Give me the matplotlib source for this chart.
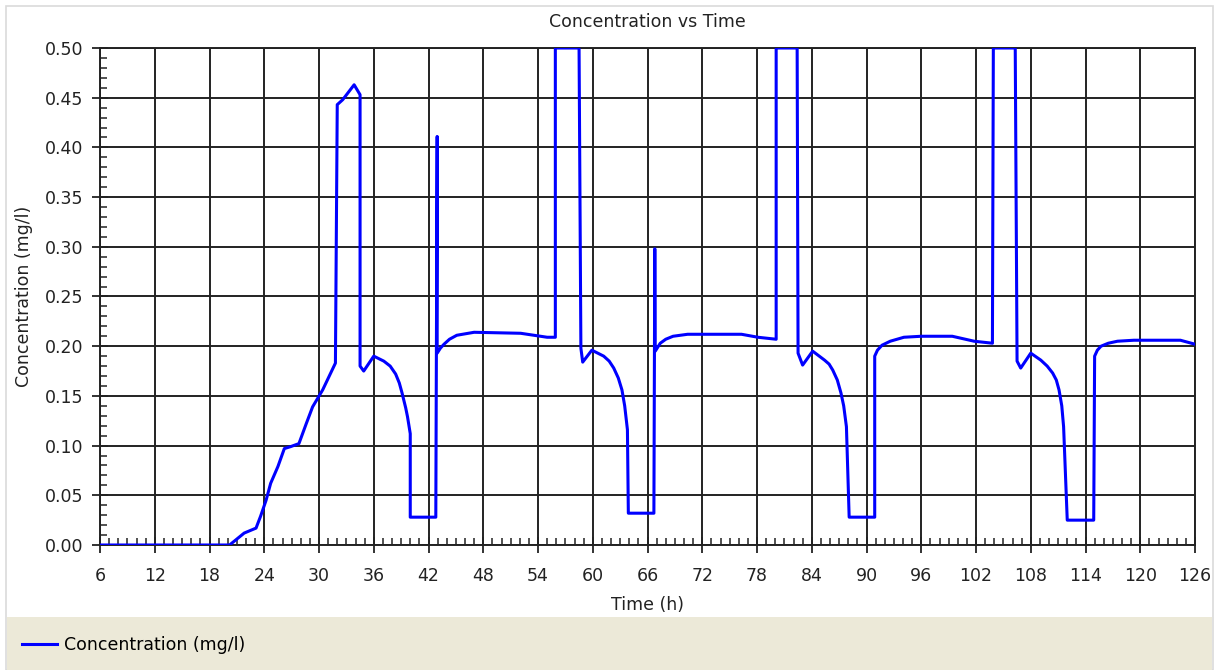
import matplotlib.pyplot as plt
from matplotlib.patches import Rectangle
from matplotlib.ticker import MultipleLocator

# data (time in h, concentration in mg/l)
time_h = [6, 20.2, 21.0, 21.8, 23.1, 23.6, 24.2, 24.7, 25.5, 26.2, 26.9, 27.8, 28.6, 29.3, 30.4, 31.8,
          32.0, 32.6, 33.85, 34.5, 34.5, 34.9, 36.0, 37.1, 37.8, 38.4, 38.8, 39.1, 39.5, 39.7, 40.0, 40.0, 42.8,
          42.95, 42.95, 43.3, 43.7, 44.3, 45.1, 47.0, 52.1, 55.0, 55.9, 55.9, 58.5, 58.7, 58.9, 59.9, 61.2,
          61.8, 62.3, 62.8, 63.2, 63.5, 63.8, 63.9, 66.7, 66.8, 66.85, 67.4, 68.0, 68.8, 70.4, 76.3, 78.1, 80.1, 80.1,
          82.4, 82.5, 83.0, 84.1, 85.4, 85.9, 86.3, 86.8, 87.2, 87.5, 87.8, 88.1, 90.9, 90.9, 91.2, 91.7, 92.6, 94.1, 96.0,
          99.4, 101.8, 103.8, 103.9, 106.3, 106.5, 106.9, 108.0, 109.1, 109.8, 110.4, 110.8, 111.1, 111.4, 111.6,
          112.0, 114.9, 115.0, 115.3, 115.7, 116.5, 117.5, 119.3, 124.4, 126]
conc = [0, 0, 0.006, 0.012, 0.017, 0.029, 0.045, 0.062, 0.079, 0.097, 0.099, 0.102, 0.122, 0.139, 0.156, 0.183,
        0.443, 0.448, 0.463, 0.453, 0.180, 0.175, 0.190, 0.185, 0.180, 0.172, 0.163, 0.153, 0.138, 0.129, 0.112, 0.028, 0.028,
        0.411, 0.193, 0.198, 0.202, 0.207, 0.211, 0.214, 0.213, 0.209, 0.209, 0.5, 0.5, 0.198, 0.184, 0.196, 0.190,
        0.185, 0.178, 0.168, 0.156, 0.140, 0.116, 0.032, 0.032, 0.298, 0.195, 0.203, 0.207, 0.210, 0.212, 0.212, 0.209, 0.207, 0.5,
        0.5, 0.193, 0.181, 0.195, 0.186, 0.182, 0.176, 0.166, 0.153, 0.140, 0.119, 0.028, 0.028, 0.190, 0.196, 0.201, 0.205, 0.209, 0.210,
        0.210, 0.205, 0.203, 0.5, 0.5, 0.185, 0.178, 0.193, 0.186, 0.180, 0.173, 0.166, 0.156, 0.140, 0.119,
        0.025, 0.025, 0.190, 0.196, 0.200, 0.203, 0.205, 0.206, 0.206, 0.202]

W, H = 1217, 670
fig = plt.figure(figsize=(W / 100, H / 100), dpi=100)
fig.patch.set_facecolor('white')

# outer frame + beige legend strip
fig.patches.append(Rectangle((6 / W, 0), 1207 / W, 664 / H, transform=fig.transFigure,
                             facecolor='white', edgecolor='#DADADA', lw=1.2, zorder=-10))
fig.patches.append(Rectangle((7 / W, 0), 1205 / W, 53 / H, transform=fig.transFigure,
                             facecolor='#ECE9D8', edgecolor='none', zorder=-9))

ax = fig.add_axes([100 / W, 1 - 545 / H, 1095 / W, 497 / H])
ax.set_zorder(1)
line, = ax.plot(time_h, conc, color='#0000FF', lw=2.2, solid_joinstyle='round', zorder=3)

ax.set_xlim(6, 126)
ax.set_ylim(0, 0.5)
ax.xaxis.set_major_locator(MultipleLocator(6))
ax.xaxis.set_minor_locator(MultipleLocator(1))
ax.yaxis.set_major_locator(MultipleLocator(0.05))
ax.yaxis.set_minor_locator(MultipleLocator(0.01))
ax.yaxis.set_major_formatter(plt.FormatStrFormatter('%.2f'))
ax.grid(True, which='major', color='#222222', lw=1.4)
ax.set_axisbelow(True)
for s in ax.spines.values():
    s.set_color('#222222')
    s.set_linewidth(1.4)

ax.tick_params(which='major', direction='inout', length=12, width=1.3, labelsize=12.5,
               colors='#222222', labelcolor='#222222')
ax.tick_params(axis='x', which='major', pad=10)
ax.tick_params(axis='y', which='major', pad=6)
ax.tick_params(which='minor', direction='in', length=5, width=1.1, colors='#222222')

fig.text(647 / W, 1 - 22 / H, 'Concentration vs Time', ha='center', va='center',
         fontsize=12.5, color='#222222')
fig.text(647 / W, 1 - 605 / H, 'Time (h)', ha='center', va='center', fontsize=12.5, color='#222222')
fig.text(24 / W, 1 - 296 / H, 'Concentration (mg/l)', ha='center', va='center', rotation=90,
         fontsize=12.5, color='#222222')

fig.legend([line], ['Concentration (mg/l)'], loc='center left', bbox_to_anchor=(15 / W, 25 / H),
           frameon=False, fontsize=12.5, handlelength=2.0, handletextpad=0.4, borderaxespad=0)

fig.savefig('out.png', dpi=100)
